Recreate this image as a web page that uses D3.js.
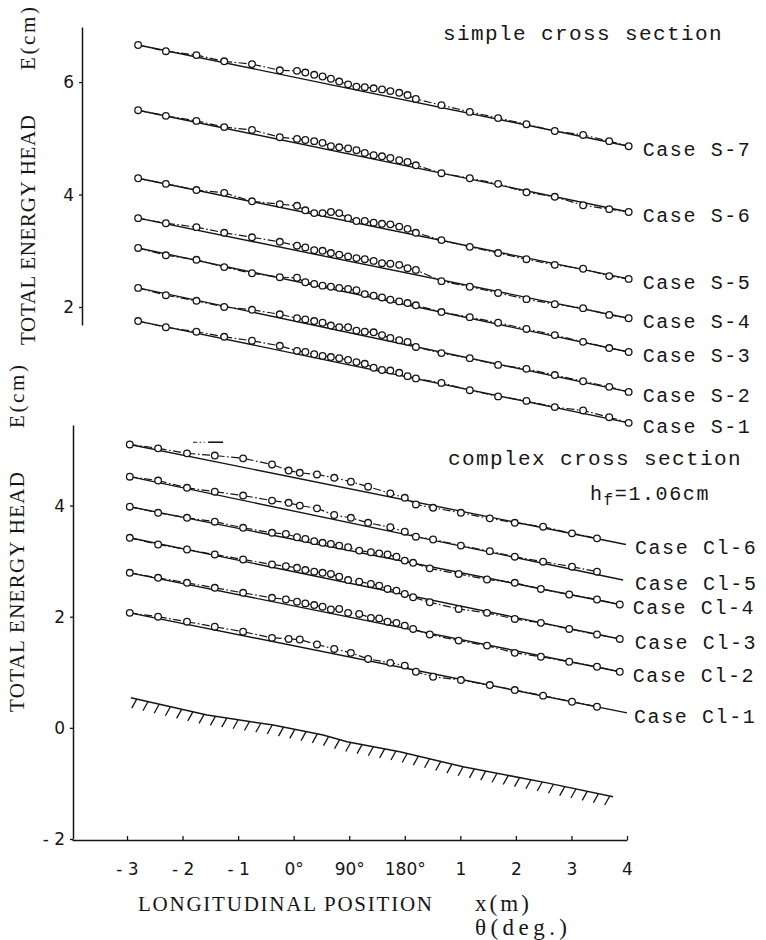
<!DOCTYPE html>
<html>
<head>
<meta charset="utf-8">
<script src="https://cdn.jsdelivr.net/npm/d3@7"></script>
<style>
  body { margin: 0; background: #fff; }
  svg { display: block; }
</style>
</head>
<body>
<div id="chart"></div>
<script>
// x is a station index: 0..9 = -3,-2,-1 m, 0°,90°,180° (bend), 1,2,3,4 m
const xTickLabels = ["- 3", "- 2", "- 1", "0°", "90°", "180°", "1", "2", "3", "4"];
const topTicks = [2, 4, 6];
const bottomTicks = [4, 2, 0, -2];

// simple cross section
const topStations = [0.2, 0.7, 1.25, 1.75, 2.25, 2.75,
  3.06, 3.21, 3.37, 3.52, 3.67, 3.82, 3.98, 4.13, 4.28, 4.44, 4.59, 4.74, 4.9, 5.05, 5.2,
  5.66, 6.17, 6.68, 7.19, 7.7, 8.21, 8.68, 9.03];
const caseS7 = [6.66, 6.55, 6.48, 6.37, 6.32, 6.21,
  6.20, 6.17, 6.13, 6.10, 6.06, 6.01, 5.96, 5.92, 5.91, 5.89, 5.87, 5.84, 5.81, 5.77, 5.70,
  5.59, 5.47, 5.36, 5.25, 5.13, 5.06, 4.95, 4.86];
const caseS6 = [5.50, 5.40, 5.31, 5.20, 5.15, 5.02,
  4.99, 4.97, 4.95, 4.92, 4.86, 4.84, 4.82, 4.79, 4.74, 4.70, 4.68, 4.65, 4.61, 4.58, 4.52,
  4.38, 4.29, 4.19, 4.04, 3.96, 3.81, 3.74, 3.69];
const caseS5 = [4.29, 4.19, 4.08, 4.03, 3.88, 3.83,
  3.80, 3.72, 3.67, 3.67, 3.69, 3.67, 3.58, 3.53, 3.53, 3.50, 3.48, 3.47, 3.43, 3.39, 3.32,
  3.19, 3.07, 2.96, 2.85, 2.75, 2.68, 2.55, 2.50];
const caseS4 = [3.58, 3.49, 3.42, 3.32, 3.24, 3.16,
  3.09, 3.06, 3.01, 3.00, 2.96, 2.93, 2.90, 2.87, 2.85, 2.82, 2.78, 2.77, 2.75, 2.69, 2.66,
  2.46, 2.36, 2.25, 2.14, 2.05, 1.98, 1.86, 1.80];
const caseS3 = [3.05, 2.92, 2.84, 2.71, 2.60, 2.53,
  2.52, 2.44, 2.41, 2.38, 2.36, 2.34, 2.32, 2.30, 2.23, 2.20, 2.17, 2.13, 2.10, 2.07, 2.03,
  1.91, 1.82, 1.72, 1.61, 1.50, 1.38, 1.27, 1.20];
const caseS2 = [2.34, 2.21, 2.11, 2.00, 1.95, 1.87,
  1.80, 1.78, 1.75, 1.72, 1.67, 1.64, 1.64, 1.58, 1.56, 1.55, 1.50, 1.45, 1.41, 1.38, 1.29,
  1.18, 1.09, 0.97, 0.90, 0.79, 0.68, 0.58, 0.49];
const caseS1 = [1.75, 1.64, 1.56, 1.47, 1.40, 1.31,
  1.22, 1.20, 1.16, 1.13, 1.11, 1.09, 1.06, 1.02, 0.99, 0.92, 0.88, 0.87, 0.83, 0.77, 0.73,
  0.65, 0.52, 0.41, 0.33, 0.22, 0.16, 0.04, -0.06];

// complex cross section
const denseStations = [0.05, 0.56, 1.08, 1.58, 2.09, 2.61,
  2.86, 3.06, 3.21, 3.37, 3.52, 3.67, 3.82, 3.98, 4.18, 4.39, 4.54, 4.69, 4.85, 5.0, 5.15,
  5.45, 5.97, 6.48, 6.98, 7.45, 7.96, 8.46, 8.87];
const sparseStations = [0.05, 0.56, 1.08, 1.58, 2.09, 2.61,
  2.91, 3.11, 3.42, 3.73, 4.03, 4.34, 4.74, 5.0, 5.2,
  5.51, 6.01, 6.53, 6.98, 7.49, 8.01, 8.46];
const caseCl6 = [5.10, 5.03, 4.94, 4.90, 4.85, 4.74,
  4.63, 4.59, 4.56, 4.50, 4.43, 4.34, 4.22, 4.14, 4.02,
  3.96, 3.87, 3.77, 3.69, 3.62, 3.50, 3.41];
const caseCl5 = [4.52, 4.45, 4.32, 4.25, 4.18, 4.09,
  4.05, 4.00, 3.95, 3.83, 3.78, 3.69, 3.61, 3.53, 3.44,
  3.39, 3.28, 3.18, 3.08, 2.99, 2.90, 2.81];
const caseCl4 = [3.98, 3.87, 3.78, 3.71, 3.60, 3.51,
  3.49, 3.43, 3.40, 3.36, 3.33, 3.31, 3.28, 3.25, 3.19, 3.16, 3.14, 3.12, 3.08, 3.01, 2.97,
  2.87, 2.77, 2.67, 2.61, 2.50, 2.40, 2.31, 2.22];
const caseCl3 = [3.42, 3.30, 3.21, 3.12, 3.03, 2.94,
  2.91, 2.88, 2.84, 2.81, 2.79, 2.77, 2.72, 2.66, 2.63, 2.59, 2.56, 2.50, 2.47, 2.41, 2.35,
  2.26, 2.14, 2.07, 1.96, 1.89, 1.78, 1.68, 1.60];
const caseCl2 = [2.79, 2.70, 2.61, 2.52, 2.43, 2.34,
  2.31, 2.27, 2.24, 2.21, 2.18, 2.13, 2.14, 2.07, 2.05, 1.98, 1.97, 1.91, 1.89, 1.84, 1.78,
  1.68, 1.57, 1.48, 1.35, 1.28, 1.19, 1.10, 1.01];
const caseCl1 = [2.07, 2.00, 1.91, 1.82, 1.73, 1.62,
  1.60, 1.59, 1.50, 1.42, 1.35, 1.24, 1.17, 1.12, 1.01,
  0.92, 0.86, 0.77, 0.68, 0.58, 0.47, 0.38];

// computed (solid) lines of the complex section: [station, E] at both ends
const lineCl6 = [[0.05, 5.10], [8.98, 3.30]];
const lineCl5 = [[0.05, 4.52], [8.93, 2.66]];
const lineCl4 = [[0.05, 3.98], [8.87, 2.22]];
const lineCl3 = [[0.05, 3.42], [8.87, 1.60]];
const lineCl2 = [[0.05, 2.79], [8.87, 1.01]];
const lineCl1 = [[0.05, 2.07], [9.0, 0.27]];

// channel bed (complex section)
const bedStations = [0.07, 1.44, 2.63, 3.53, 3.96, 4.91, 6.05, 7.56, 8.75];
const bedE = [0.54, 0.23, 0.05, -0.13, -0.25, -0.43, -0.70, -0.99, -1.24];

// small line-style key above Cl-6
const keyStations = [1.19, 1.40, 1.46, 1.73];
const keyE = 5.14;

const width = 766;
const height = 940;
const ink = "#161616";

const svg = d3
  .select("#chart")
  .append("svg")
  .attr("width", width)
  .attr("height", height);

svg.append("rect").attr("width", width).attr("height", height).attr("fill", "#fff");

const x = d3.scaleLinear().domain([-0.99, 9]).range([72, 627]);
const yTop = d3.scaleLinear().domain([1.68, 6.98]).range([325, 27]);
const yBot = d3.scaleLinear().domain([-2, 5.45]).range([839, 425]);

const tickFont = "'DejaVu Sans', sans-serif";
const monoFont = "'Liberation Mono', 'DejaVu Sans Mono', monospace";
const serifFont = "'Liberation Serif', 'DejaVu Serif', serif";

function styleAxis(g) {
  g.select(".domain").attr("stroke", ink).attr("stroke-width", 1.5);
  g.selectAll(".tick line").attr("stroke", ink).attr("stroke-width", 1.3);
  g.selectAll(".tick text")
    .attr("fill", ink)
    .attr("font-family", tickFont)
    .attr("font-size", 17);
}

const fmtE = d => (d < 0 ? "- " + -d : String(d));

// axes
svg.append("g")
  .attr("transform", "translate(82,0)")
  .call(d3.axisLeft(yTop).tickValues(topTicks).tickFormat(fmtE)
    .tickSizeInner(3).tickSizeOuter(0).tickPadding(5))
  .call(styleAxis);

svg.append("g")
  .attr("transform", "translate(73,0)")
  .call(d3.axisLeft(yBot).tickValues(bottomTicks).tickFormat(fmtE)
    .tickSizeInner(3).tickSizeOuter(0).tickPadding(5))
  .call(styleAxis);

svg.append("g")
  .attr("transform", "translate(0,840)")
  .call(d3.axisBottom(x).tickValues(d3.range(10)).tickFormat(i => xTickLabels[i])
    .tickSizeInner(-4).tickSizeOuter(0).tickPadding(23))
  .call(styleAxis);

// one case: solid computed line, dash-dot measured line, open circles, label
function drawCase(yScale, stations, values, line, label, labelDx) {
  const pts = stations.map((s, i) => [s, values[i]]);
  const path = d3.line().x(d => x(d[0])).y(d => yScale(d[1]));
  const g = svg.append("g");

  g.append("path")
    .datum(line)
    .attr("d", path)
    .attr("fill", "none")
    .attr("stroke", ink)
    .attr("stroke-width", 1.4);

  g.append("path")
    .datum(pts)
    .attr("d", path)
    .attr("fill", "none")
    .attr("stroke", ink)
    .attr("stroke-width", 1.2)
    .attr("stroke-dasharray", "8,2.5,1.6,2.5");

  g.selectAll("circle")
    .data(pts)
    .join("circle")
    .attr("cx", d => x(d[0]))
    .attr("cy", d => yScale(d[1]))
    .attr("r", 3.3)
    .attr("fill", "#fff")
    .attr("stroke", ink)
    .attr("stroke-width", 1.3);

  const end = line[line.length - 1];
  g.append("text")
    .attr("x", x(end[0]) + labelDx)
    .attr("y", yScale(end[1]) + 3)
    .attr("dy", "0.35em")
    .attr("font-family", monoFont)
    .attr("font-size", 20)
    .attr("letter-spacing", 1.6)
    .attr("fill", ink)
    .text("Case " + label);
}

const topCases = [
  ["S-7", caseS7], ["S-6", caseS6], ["S-5", caseS5], ["S-4", caseS4],
  ["S-3", caseS3], ["S-2", caseS2], ["S-1", caseS1]
];
topCases.forEach(([label, vals]) => {
  const line = [[topStations[0], vals[0]], [topStations[topStations.length - 1], vals[vals.length - 1]]];
  drawCase(yTop, topStations, vals, line, label, 14);
});

drawCase(yBot, sparseStations, caseCl6, lineCl6, "Cl-6", 9);
drawCase(yBot, sparseStations, caseCl5, lineCl5, "Cl-5", 12);
drawCase(yBot, denseStations, caseCl4, lineCl4, "Cl-4", 13);
drawCase(yBot, denseStations, caseCl3, lineCl3, "Cl-3", 15);
drawCase(yBot, denseStations, caseCl2, lineCl2, "Cl-2", 13);
drawCase(yBot, sparseStations, caseCl1, lineCl1, "Cl-1", 7);

// bed with hatching
const bedPts = bedStations.map((s, i) => [s, bedE[i]]);
const bedPath = svg.append("path")
  .datum(bedPts)
  .attr("d", d3.line().x(d => x(d[0])).y(d => yBot(d[1])))
  .attr("fill", "none")
  .attr("stroke", ink)
  .attr("stroke-width", 1.5);

const bedNode = bedPath.node();
const bedLen = bedNode.getTotalLength();
const hatches = d3.range(6, bedLen, 11.5).map(l => bedNode.getPointAtLength(l));
svg.append("g")
  .selectAll("line")
  .data(hatches)
  .join("line")
  .attr("x1", p => p.x)
  .attr("y1", p => p.y)
  .attr("x2", p => p.x - 5)
  .attr("y2", p => p.y + 9)
  .attr("stroke", ink)
  .attr("stroke-width", 1.3);

// line-style key
svg.append("line")
  .attr("x1", x(keyStations[0])).attr("x2", x(keyStations[1]))
  .attr("y1", yBot(keyE)).attr("y2", yBot(keyE))
  .attr("stroke", ink).attr("stroke-width", 1.2).attr("stroke-dasharray", "4,2.5,1.6,2.5");
svg.append("line")
  .attr("x1", x(keyStations[2])).attr("x2", x(keyStations[3]))
  .attr("y1", yBot(keyE)).attr("y2", yBot(keyE))
  .attr("stroke", ink).attr("stroke-width", 1.6);

// panel titles
svg.append("text")
  .attr("x", 443).attr("y", 40)
  .attr("font-family", monoFont).attr("font-size", 21).attr("letter-spacing", 1.4)
  .attr("fill", ink)
  .text("simple cross section");

svg.append("text")
  .attr("x", 448).attr("y", 465)
  .attr("font-family", monoFont).attr("font-size", 21).attr("letter-spacing", 1.4)
  .attr("fill", ink)
  .text("complex cross section");

const hf = svg.append("text")
  .attr("x", 590).attr("y", 500)
  .attr("font-family", monoFont).attr("font-size", 20).attr("letter-spacing", 1.6)
  .attr("fill", ink);
hf.append("tspan").text("h");
hf.append("tspan").attr("dy", 5).attr("font-size", 16).text("f");
hf.append("tspan").attr("dy", -5).text("=1.06cm");

// axis titles (rotated)
function vText(cx, y0, len, str) {
  svg.append("text")
    .attr("transform", `translate(${cx},${y0}) rotate(-90)`)
    .attr("dy", "0.35em")
    .attr("font-family", serifFont)
    .attr("font-size", 21)
    .attr("textLength", len)
    .attr("lengthAdjust", "spacing")
    .attr("fill", ink)
    .text(str);
}
vText(28, 345, 230, "TOTAL ENERGY HEAD");
vText(28, 70, 63, "E(cm)");
vText(17, 712, 240, "TOTAL ENERGY HEAD");
vText(17, 428, 63, "E(cm)");

// x axis title
function hText(x0, y0, len, str, size) {
  svg.append("text")
    .attr("x", x0).attr("y", y0)
    .attr("font-family", serifFont)
    .attr("font-size", size)
    .attr("textLength", len)
    .attr("lengthAdjust", "spacing")
    .attr("fill", ink)
    .text(str);
}
hText(138, 911, 294, "LONGITUDINAL POSITION", 21);
hText(475, 911, 54, "x(m)", 23);
hText(475, 935, 92, "θ(deg.)", 23);
</script>
</body>
</html>
